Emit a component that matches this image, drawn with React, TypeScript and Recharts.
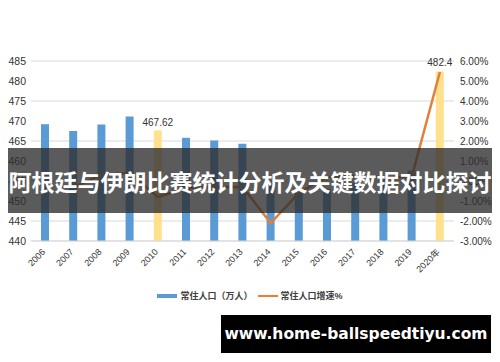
import React from 'react';
import {
  ComposedChart,
  Bar,
  Line,
  XAxis,
  YAxis,
  CartesianGrid,
  Cell,
  LabelList,
} from 'recharts';

const years = ['2006', '2007', '2008', '2009', '2010', '2011', '2012', '2013', '2014', '2015', '2016', '2017', '2018', '2019', '2020年'];
// 常住人口（万人）
const population = [469.2, 467.5, 469.1, 471.1, 467.62, 465.8, 465.1, 464.3, 454.5, 452.0, 453.0, 454.5, 456.0, 457.6, 482.4];
// 常住人口增速%
const growth = [null, -0.3, 0.3, 0.4, -0.8, -0.35, -0.3, -0.3, -2.1, -0.6, 0.2, 0.25, 0.2, 0.2, 5.45];
const highlightYears = ['2010', '2020年'];
const labelledYears = ['2010', '2020年'];
const leftTicks = [440, 445, 450, 455, 460, 465, 470, 475, 480, 485];
const rightTicks = [-3, -2, -1, 0, 1, 2, 3, 4, 5, 6];

const title = '阿根廷与伊朗比赛统计分析及关键数据对比探讨';
const site = 'www.home-ballspeedtiyu.com';

const data = years.map((y, i) => ({
  year: y,
  pop: population[i],
  rate: growth[i],
  label: labelledYears.includes(y) ? String(population[i]) : null,
}));

const FONT = '"Liberation Sans", "Noto Sans CJK SC", sans-serif';

const YearTick = (props: any) => {
  const { x, y, payload } = props;
  return (
    <text
      x={x}
      y={y}
      transform={`rotate(-45 ${x} ${y})`}
      textAnchor="end"
      fontSize={9}
      fontFamily={FONT}
      fill="#333"
      dy={3}
      dx={-2}
    >
      {payload.value}
    </text>
  );
};

export default function App() {
  return (
    <div style={{ position: 'fixed', left: 0, top: 0, width: 500, height: 362, background: '#fff' }}>
      <ComposedChart
        width={500}
        height={362}
        data={data}
        margin={{ top: 61, right: 0, bottom: 81, left: 0 }}
      >
        <CartesianGrid vertical={false} stroke="#d9d9d9" yAxisId="left" />
        <XAxis
          dataKey="year"
          interval={0}
          tick={<YearTick />}
          tickLine={false}
          axisLine={{ stroke: '#d9d9d9' }}
          height={40}
        />
        <YAxis
          yAxisId="left"
          domain={[440, 485]}
          ticks={leftTicks}
          width={31}
          tickLine={false}
          axisLine={false}
          tickSize={4}
          tickMargin={1}
          tick={{ fontSize: 10.5, fill: '#333', fontFamily: FONT }}
        />
        <YAxis
          yAxisId="right"
          orientation="right"
          domain={[-3, 6]}
          ticks={rightTicks}
          width={46}
          tickLine={false}
          axisLine={false}
          tickSize={4}
          tickMargin={2}
          tickFormatter={(v: number) => `${v.toFixed(2)}%`}
          tick={{ fontSize: 10, fill: '#333', fontFamily: FONT, textAnchor: 'start' }}
        />
        <Bar yAxisId="left" dataKey="pop" barSize={8} isAnimationActive={false}>
          {data.map((d) => (
            <Cell key={d.year} fill={highlightYears.includes(d.year) ? '#FFE08C' : '#5B9BD5'} />
          ))}
          <LabelList
            dataKey="label"
            position="top"
            offset={5}
            style={{ fontSize: 10, fill: '#333', fontFamily: FONT }}
          />
        </Bar>
        <Line
          yAxisId="right"
          dataKey="rate"
          stroke="#E0803A"
          strokeWidth={2.5}
          dot={false}
          type="linear"
          isAnimationActive={false}
        />
      </ComposedChart>
      {/* legend */}
      <div
        style={{
          position: 'absolute',
          left: 0,
          top: 289,
          width: 500,
          display: 'flex',
          justifyContent: 'center',
          alignItems: 'center',
          fontSize: 9,
          fontFamily: FONT,
          fontWeight: 'bold',
          color: '#404040',
        }}
      >
        <span style={{ width: 20, height: 4, background: '#5B9BD5', marginRight: 3 }} />
        <span style={{ marginRight: 5 }}>常住人口（万人）</span>
        <span style={{ width: 20, height: 2, background: '#ED7D31', marginRight: 3 }} />
        <span>常住人口增速%</span>
      </div>
      <div
        style={{
          position: 'absolute',
          left: 8,
          top: 148,
          width: 484,
          height: 65,
          background: 'rgba(45,45,45,0.78)',
          display: 'flex',
          alignItems: 'center',
          justifyContent: 'center',
          color: '#fff',
          fontFamily: '"Noto Sans CJK SC", sans-serif',
          fontWeight: 'bold',
          fontSize: 23,
          whiteSpace: 'nowrap',
          overflow: 'hidden',
        }}
      >
        {title}
      </div>
      <div
        style={{
          position: 'absolute',
          left: 221,
          top: 315,
          width: 270,
          height: 38,
          background: '#000',
          display: 'flex',
          alignItems: 'center',
          justifyContent: 'center',
          color: '#fff',
          fontFamily: '"DejaVu Sans", sans-serif',
          fontWeight: 'bold',
          fontSize: 15.5,
          whiteSpace: 'nowrap',
        }}
      >
        {site}
      </div>
    </div>
  );
}
